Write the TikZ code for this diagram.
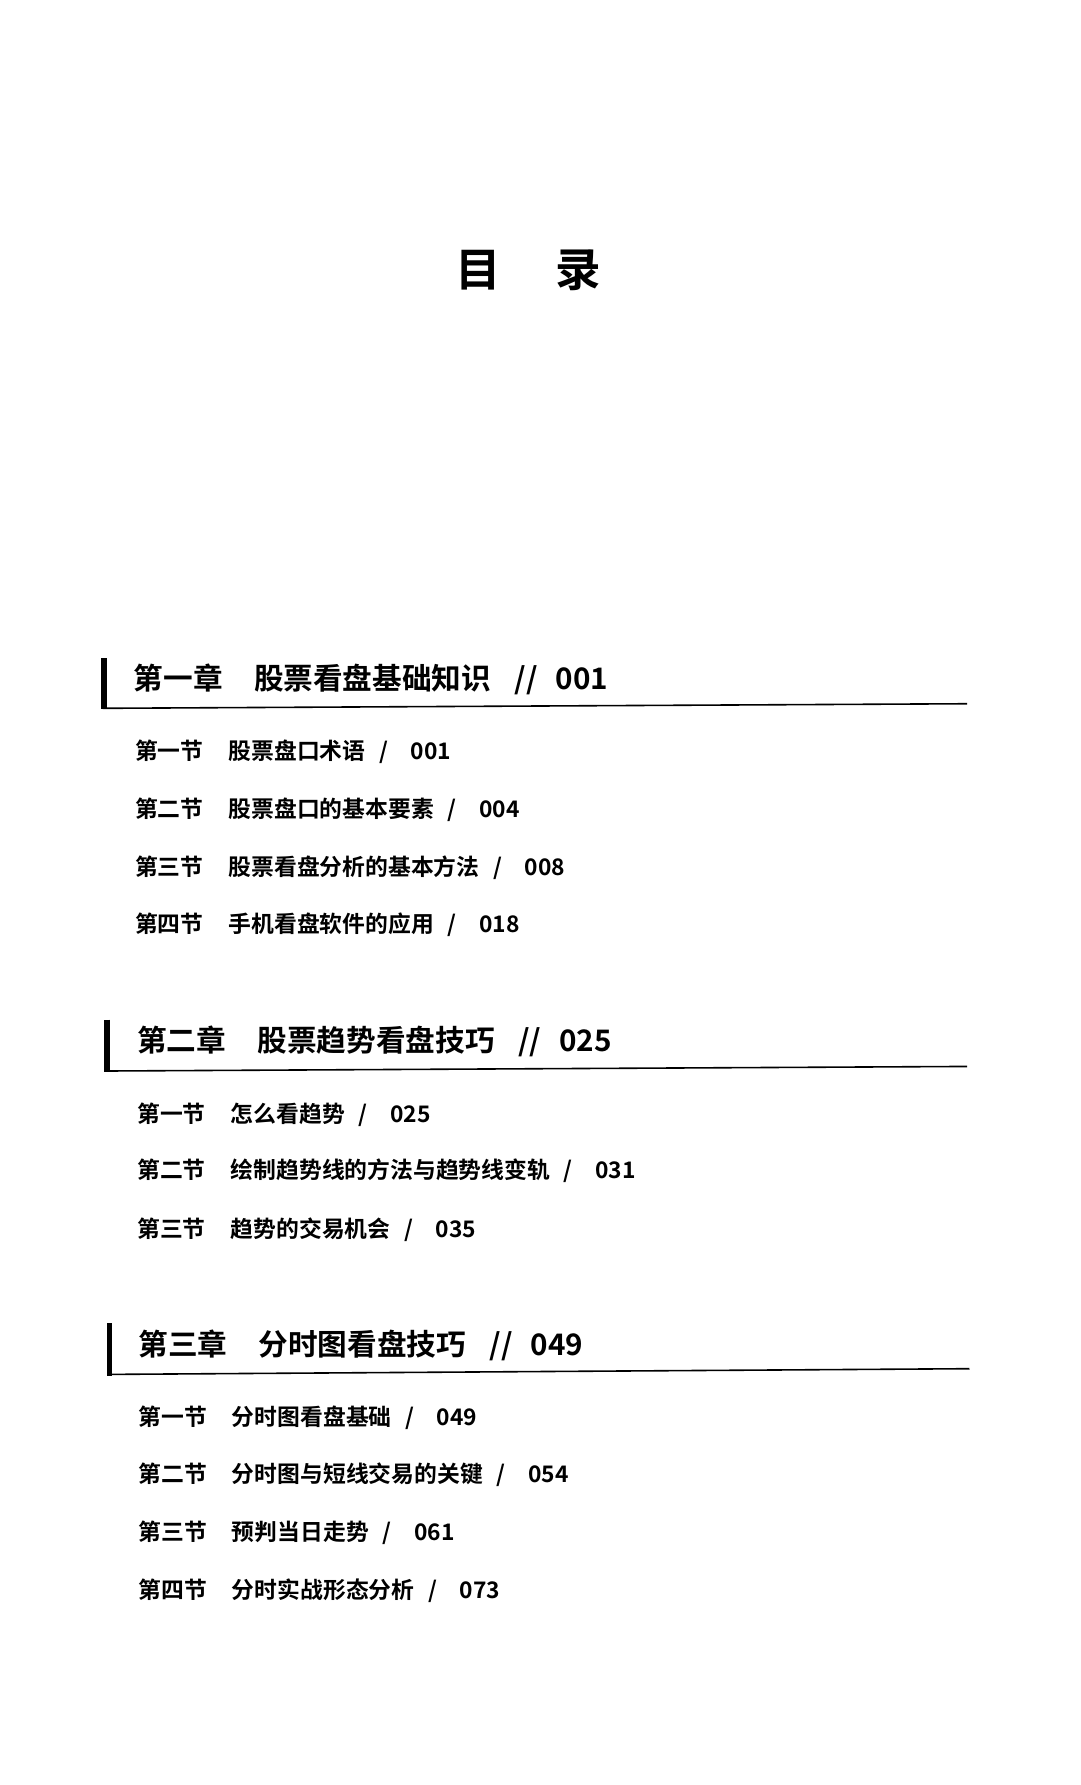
\documentclass[tikz,border=0pt]{standalone}
\usepackage{fontspec}
\newfontfamily\cjk{Noto Sans CJK SC}
\newfontfamily\cjkb{Noto Sans CJK SC Bold}
\newcommand{\tocsl}{\hspace{0.6em}/\hspace{1.0em}}
\newcommand{\tocdsl}{\hspace{0.8em}//\hspace{0.6em}}
\begin{document}
\begin{tikzpicture}[x=0.5pt,y=-0.5pt,
  chap/.style={anchor=west,inner sep=0pt,font=\cjkb\fontsize{13}{15}\selectfont},
  sec/.style={anchor=west,inner sep=0pt,font=\cjkb\fontsize{10}{12}\selectfont},
  rule/.style={line width=0.7pt},
  bar/.style={line width=2.5pt}]
\useasboundingbox (0,0) rectangle (947,1565);
\node[inner sep=0pt,font=\cjkb\fontsize{20}{22}\selectfont] (t) at (463,237) {目\hspace{1.2em}录};
% Chapter 1
\draw[bar] (91,577) -- (91,622);
\draw[rule] (90,621) -- (848,617);
\node[chap] (c1) at (117,596) {第一章\hspace{1.05em}股票看盘基础知识\tocdsl 001};
\node[sec] (s11) at (118,659) {第一节\hspace{1.1em}股票盘口术语\tocsl 001};
\node[sec] (s12) at (118,710) {第二节\hspace{1.1em}股票盘口的基本要素\tocsl 004};
\node[sec] (s13) at (118,761) {第三节\hspace{1.1em}股票看盘分析的基本方法\tocsl 008};
\node[sec] (s14) at (118,811) {第四节\hspace{1.1em}手机看盘软件的应用\tocsl 018};
% Chapter 2
\draw[bar] (94,894) -- (94,940);
\draw[rule] (93,939) -- (848,935);
\node[chap] (c2) at (120,913) {第二章\hspace{1.05em}股票趋势看盘技巧\tocdsl 025};
\node[sec] (s21) at (120,977) {第一节\hspace{1.1em}怎么看趋势\tocsl 025};
\node[sec] (s22) at (120,1026) {第二节\hspace{1.1em}绘制趋势线的方法与趋势线变轨\tocsl 031};
\node[sec] (s23) at (120,1078) {第三节\hspace{1.1em}趋势的交易机会\tocsl 035};
% Chapter 3
\draw[bar] (96,1160) -- (96,1206);
\draw[rule] (95,1205) -- (850,1200);
\node[chap] (c3) at (121,1180) {第三章\hspace{1.05em}分时图看盘技巧\tocdsl 049};
\node[sec] (s31) at (121,1243) {第一节\hspace{1.1em}分时图看盘基础\tocsl 049};
\node[sec] (s32) at (121,1293) {第二节\hspace{1.1em}分时图与短线交易的关键\tocsl 054};
\node[sec] (s33) at (121,1344) {第三节\hspace{1.1em}预判当日走势\tocsl 061};
\node[sec] (s34) at (121,1395) {第四节\hspace{1.1em}分时实战形态分析\tocsl 073};
\end{tikzpicture}
\end{document}
